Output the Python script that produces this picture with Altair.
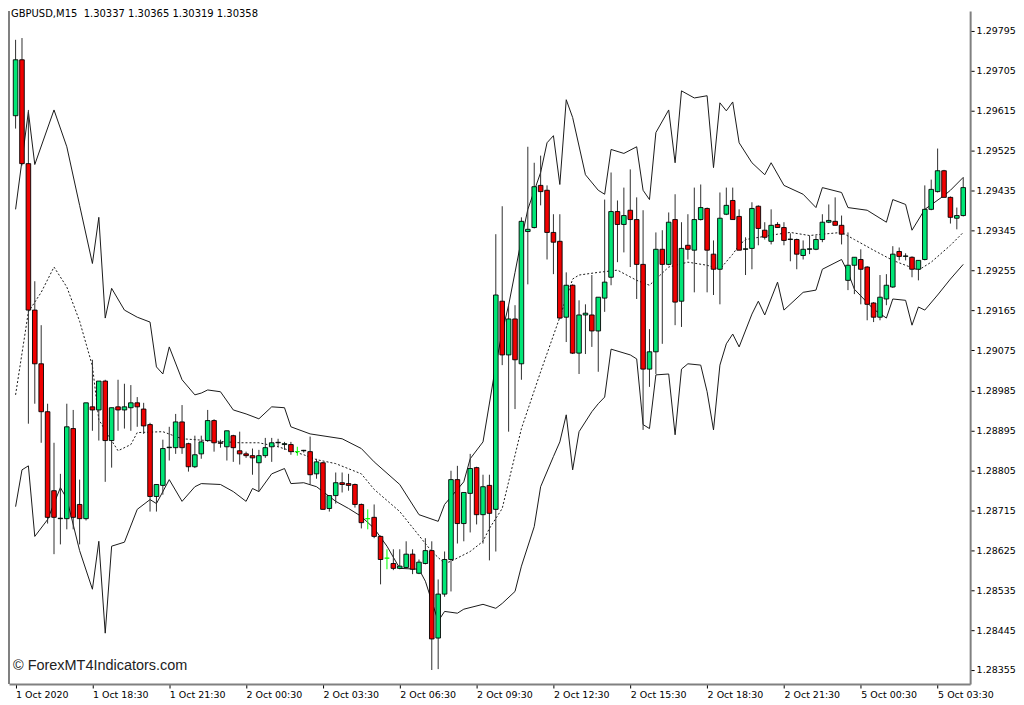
import altair as alt
import pandas as pd

# ---------------- candle data (GBPUSD M15) ----------------
bar_index = list(range(149))
opens = [1.29604, 1.29730, 1.29496, 1.29166, 1.29045, 1.28937, 1.28759, 1.28696, 1.28696, 1.28899,
         1.28728, 1.28696, 1.28948, 1.28941, 1.29006, 1.28872, 1.28948, 1.28941, 1.28946, 1.28957,
         1.28943, 1.28908, 1.28746, 1.28771, 1.28856, 1.28856, 1.28914, 1.28865, 1.28813, 1.28842,
         1.28872, 1.28917, 1.28867, 1.28858, 1.28883, 1.28849, 1.28842, 1.28838, 1.28822, 1.28838,
         1.28858, 1.28867, 1.28863, 1.28863, 1.28847, 1.28849, 1.28847, 1.28797, 1.28822, 1.28719,
         1.28748, 1.28777, 1.28775, 1.28773, 1.28728, 1.28696, 1.28699, 1.28656, 1.28607, 1.28595,
         1.28584, 1.28586, 1.28616, 1.28573, 1.28595, 1.28624, 1.28427, 1.28526, 1.28604, 1.28784,
         1.28685, 1.28753, 1.28811, 1.28705, 1.28771, 1.28717, 1.29186, 1.29065, 1.29146, 1.29045,
         1.29343, 1.29352, 1.29447, 1.29436, 1.29341, 1.29321, 1.29150, 1.29222, 1.29069, 1.29155,
         1.29155, 1.29119, 1.29193, 1.29240, 1.29388, 1.29359, 1.29391, 1.29370, 1.29269, 1.29033,
         1.29072, 1.29303, 1.29269, 1.29370, 1.29186, 1.29312, 1.29301, 1.29370, 1.29395, 1.29292,
         1.29258, 1.29382, 1.29413, 1.29377, 1.29303, 1.29305, 1.29400, 1.29346, 1.29321, 1.29359,
         1.29352, 1.29325, 1.29325, 1.29289, 1.29303, 1.29303, 1.29325, 1.29364, 1.29366, 1.29357,
         1.29233, 1.29267, 1.29280, 1.29263, 1.29182, 1.29150, 1.29191, 1.29218, 1.29298, 1.29287,
         1.29285, 1.29258, 1.29280, 1.29393, 1.29433, 1.29480, 1.29420, 1.29373, 1.29379]
highs = [1.29775, 1.29779, 1.29617, 1.29231, 1.29132, 1.28955, 1.28867, 1.28797, 1.28955, 1.28941,
         1.28784, 1.28957, 1.29054, 1.29006, 1.29009, 1.28946, 1.29009, 1.29000, 1.28997, 1.28970,
         1.28957, 1.28912, 1.28773, 1.28874, 1.28903, 1.28932, 1.28952, 1.28867, 1.28883, 1.28883,
         1.28941, 1.28920, 1.28874, 1.28894, 1.28885, 1.28892, 1.28847, 1.28854, 1.28851, 1.28878,
         1.28878, 1.28876, 1.28869, 1.28869, 1.28858, 1.28851, 1.28881, 1.28831, 1.28824, 1.28748,
         1.28800, 1.28800, 1.28797, 1.28775, 1.28730, 1.28717, 1.28728, 1.28658, 1.28627, 1.28627,
         1.28627, 1.28645, 1.28627, 1.28604, 1.28652, 1.28645, 1.28559, 1.28622, 1.28804, 1.28815,
         1.28755, 1.28842, 1.28813, 1.28795, 1.28795, 1.29337, 1.29400, 1.29177, 1.29177, 1.29375,
         1.29534, 1.29498, 1.29514, 1.29447, 1.29382, 1.29382, 1.29251, 1.29224, 1.29188, 1.29179,
         1.29245, 1.29195, 1.29415, 1.29476, 1.29413, 1.29442, 1.29483, 1.29420, 1.29391, 1.29123,
         1.29341, 1.29346, 1.29386, 1.29427, 1.29364, 1.29382, 1.29442, 1.29449, 1.29397, 1.29323,
         1.29431, 1.29442, 1.29442, 1.29393, 1.29330, 1.29409, 1.29402, 1.29364, 1.29393, 1.29364,
         1.29364, 1.29339, 1.29327, 1.29323, 1.29334, 1.29334, 1.29382, 1.29404, 1.29420, 1.29379,
         1.29341, 1.29285, 1.29303, 1.29265, 1.29184, 1.29245, 1.29247, 1.29310, 1.29307, 1.29294,
         1.29287, 1.29278, 1.29447, 1.29460, 1.29530, 1.29482, 1.29422, 1.29397, 1.29465]
lows = [1.29575, 1.29492, 1.28910, 1.28955, 1.28867, 1.28685, 1.28616, 1.28638, 1.28672, 1.28672,
        1.28638, 1.28692, 1.28894, 1.28872, 1.28779, 1.28811, 1.28894, 1.28899, 1.28894, 1.28903,
        1.28887, 1.28712, 1.28712, 1.28750, 1.28827, 1.28842, 1.28842, 1.28802, 1.28810, 1.28831,
        1.28869, 1.28847, 1.28856, 1.28827, 1.28824, 1.28818, 1.28833, 1.28795, 1.28757, 1.28833,
        1.28824, 1.28858, 1.28851, 1.28840, 1.28838, 1.28845, 1.28773, 1.28786, 1.28717, 1.28712,
        1.28730, 1.28755, 1.28759, 1.28721, 1.28674, 1.28672, 1.28652, 1.28548, 1.28582, 1.28580,
        1.28582, 1.28584, 1.28571, 1.28571, 1.28593, 1.28355, 1.28357, 1.28520, 1.28532, 1.28640,
        1.28645, 1.28665, 1.28683, 1.28640, 1.28602, 1.28622, 1.29042, 1.28892, 1.28943, 1.29009,
        1.29224, 1.29350, 1.29402, 1.29280, 1.29247, 1.29146, 1.29094, 1.29067, 1.29022, 1.29067,
        1.29083, 1.29027, 1.29162, 1.29222, 1.29274, 1.29296, 1.29263, 1.29191, 1.28896, 1.28993,
        1.29022, 1.29090, 1.29267, 1.29132, 1.29128, 1.29280, 1.29206, 1.29368, 1.29206, 1.29200,
        1.29179, 1.29380, 1.29370, 1.29301, 1.29245, 1.29258, 1.29312, 1.29325, 1.29314, 1.29352,
        1.29312, 1.29276, 1.29258, 1.29280, 1.29292, 1.29301, 1.29319, 1.29362, 1.29357, 1.29314,
        1.29211, 1.29202, 1.29179, 1.29143, 1.29139, 1.29143, 1.29177, 1.29216, 1.29278, 1.29278,
        1.29240, 1.29233, 1.29278, 1.29391, 1.29431, 1.29420, 1.29361, 1.29348, 1.29377]
closes = [1.29730, 1.29496, 1.29166, 1.29045, 1.28937, 1.28699, 1.28699, 1.28697, 1.28903, 1.28699,
          1.28696, 1.28957, 1.28941, 1.29006, 1.28872, 1.28946, 1.28941, 1.28948, 1.28957, 1.28948,
          1.28905, 1.28746, 1.28773, 1.28854, 1.28857, 1.28914, 1.28856, 1.28813, 1.28840, 1.28869,
          1.28917, 1.28867, 1.28866, 1.28894, 1.28856, 1.28842, 1.28838, 1.28833, 1.28838, 1.28856,
          1.28867, 1.28868, 1.28865, 1.28847, 1.28847, 1.28850, 1.28795, 1.28824, 1.28717, 1.28748,
          1.28777, 1.28773, 1.28771, 1.28728, 1.28687, 1.28696, 1.28656, 1.28604, 1.28607, 1.28584,
          1.28589, 1.28616, 1.28582, 1.28598, 1.28624, 1.28425, 1.28526, 1.28604, 1.28784, 1.28685,
          1.28755, 1.28809, 1.28705, 1.28768, 1.28708, 1.29200, 1.29065, 1.29146, 1.29054, 1.29366,
          1.29348, 1.29444, 1.29433, 1.29341, 1.29319, 1.29148, 1.29222, 1.29069, 1.29155, 1.29159,
          1.29119, 1.29195, 1.29229, 1.29388, 1.29359, 1.29379, 1.29370, 1.29269, 1.29033, 1.29072,
          1.29303, 1.29269, 1.29364, 1.29184, 1.29305, 1.29303, 1.29370, 1.29397, 1.29301, 1.29258,
          1.29373, 1.29402, 1.29370, 1.29301, 1.29304, 1.29395, 1.29350, 1.29330, 1.29357, 1.29352,
          1.29323, 1.29326, 1.29292, 1.29303, 1.29304, 1.29325, 1.29364, 1.29368, 1.29357, 1.29337,
          1.29267, 1.29285, 1.29258, 1.29179, 1.29150, 1.29195, 1.29222, 1.29292, 1.29287, 1.29288,
          1.29258, 1.29278, 1.29393, 1.29438, 1.29480, 1.29420, 1.29375, 1.29379, 1.29442]

# ---------------- channel lines (vertices) ----------------
upper_bars = [0, 2, 3, 6, 8, 10, 12, 13, 14, 15, 17, 19, 21, 22, 23, 24, 26, 28, 29, 30, 32, 34, 36, 38,
              40, 42, 43, 46, 51, 54, 56, 60, 63, 66, 67, 70, 71, 73, 75, 76, 77, 78, 79, 80, 82, 83,
              84, 85, 86, 87, 89, 91, 92, 93, 95, 97, 98, 99, 100, 102, 103, 104, 106, 108, 109, 110,
              111, 112, 113, 115, 117, 118, 120, 123, 125, 126, 129, 130, 133, 136, 137, 139, 140,
              142, 145, 146, 148]
upper_vals = [1.29393, 1.29613, 1.29494, 1.29617, 1.29534, 1.29402, 1.29271, 1.29375, 1.29148, 1.29215,
              1.29166, 1.29150, 1.29139, 1.29038, 1.29022, 1.29083, 1.29009, 1.28975, 1.28979, 1.28986,
              1.28982, 1.28941, 1.28932, 1.28921, 1.28948, 1.28946, 1.28903, 1.28887, 1.28876, 1.28854,
              1.28824, 1.28773, 1.28705, 1.28690, 1.28728, 1.28779, 1.28831, 1.28869, 1.29042, 1.29117,
              1.29177, 1.29251, 1.29325, 1.29393, 1.29476, 1.29543, 1.29559, 1.29449, 1.29640, 1.29600,
              1.29471, 1.29436, 1.29427, 1.29528, 1.29519, 1.29534, 1.29436, 1.29415, 1.29566, 1.29617,
              1.29498, 1.29660, 1.29644, 1.29649, 1.29487, 1.29633, 1.29615, 1.29635, 1.29543, 1.29498,
              1.29471, 1.29498, 1.29447, 1.29427, 1.29397, 1.29442, 1.29431, 1.29397, 1.29391, 1.29364,
              1.29415, 1.29404, 1.29346, 1.29393, 1.29424, 1.29436, 1.29465]
lower_bars = [0, 1, 2, 3, 5, 7, 8, 10, 12, 13, 14, 15, 17, 19, 21, 22, 24, 26, 28, 29, 32, 34, 36, 37,
              38, 40, 42, 43, 45, 47, 50, 52, 54, 56, 58, 60, 63, 64, 65, 66, 67, 69, 70, 73, 75, 76,
              78, 79, 81, 82, 84, 85, 86, 87, 88, 90, 91, 92, 93, 96, 97, 98, 99, 100, 102, 103, 104,
              105, 107, 108, 109, 110, 111, 112, 113, 115, 116, 117, 119, 120, 123, 125, 126, 129,
              130, 131, 134, 136, 137, 139, 140, 141, 142, 144, 146, 148]
lower_vals = [1.28723, 1.28806, 1.28815, 1.28656, 1.28694, 1.28766, 1.28741, 1.28624, 1.28537, 1.28645,
              1.28438, 1.28634, 1.28643, 1.28717, 1.28739, 1.28730, 1.28784, 1.28735, 1.28768, 1.28775,
              1.28773, 1.28757, 1.28735, 1.28764, 1.28757, 1.28797, 1.28809, 1.28775, 1.28777, 1.28768,
              1.28735, 1.28719, 1.28701, 1.28674, 1.28634, 1.28584, 1.28582, 1.28555, 1.28510, 1.28465,
              1.28487, 1.28483, 1.28492, 1.28503, 1.28494, 1.28505, 1.28532, 1.28589, 1.28678, 1.28768,
              1.28836, 1.28869, 1.28930, 1.28806, 1.28892, 1.28937, 1.28955, 1.28970, 1.29078, 1.29065,
              1.29056, 1.28908, 1.28899, 1.29020, 1.29022, 1.28885, 1.29033, 1.29045, 1.29042, 1.28982,
              1.28896, 1.29042, 1.29090, 1.29112, 1.29083, 1.29157, 1.29186, 1.29155, 1.29229, 1.29166,
              1.29206, 1.29211, 1.29258, 1.29280, 1.29251, 1.29213, 1.29168, 1.29148, 1.29191, 1.29188,
              1.29132, 1.29173, 1.29166, 1.29200, 1.29236, 1.29269]
mid_bars = [0, 2, 4, 6, 8, 10, 12, 13, 15, 16, 18, 19, 23, 26, 35, 38, 41, 45, 47, 50, 54, 56, 60, 65,
            67, 68, 71, 73, 74, 76, 79, 82, 85, 87, 88, 91, 94, 97, 99, 102, 105, 108, 110, 112, 113,
            114, 119, 121, 124, 126, 129, 131, 134, 137, 141, 143, 146, 148]
mid_vals = [1.28975, 1.29162, 1.29206, 1.29263, 1.29218, 1.29141, 1.29040, 1.28919, 1.28872, 1.28849,
            1.28863, 1.28890, 1.28892, 1.28876, 1.28867, 1.28867, 1.28858, 1.28840, 1.28829, 1.28820,
            1.28797, 1.28762, 1.28712, 1.28622, 1.28595, 1.28600, 1.28622, 1.28645, 1.28674, 1.28719,
            1.28899, 1.29027, 1.29150, 1.29236, 1.29245, 1.29251, 1.29256, 1.29233, 1.29222, 1.29263,
            1.29274, 1.29267, 1.29258, 1.29292, 1.29312, 1.29325, 1.29337, 1.29341, 1.29334, 1.29337,
            1.29341, 1.29325, 1.29301, 1.29278, 1.29256, 1.29274, 1.29312, 1.29341]

# ---------------- axes text ----------------
time_tick_bars = [0, 12, 24, 36, 48, 60, 72, 84, 96, 108, 120, 132, 144]
time_tick_labels = ["1 Oct 2020", "1 Oct 18:30", "1 Oct 21:30", "2 Oct 00:30", "2 Oct 03:30",
                    "2 Oct 06:30", "2 Oct 09:30", "2 Oct 12:30", "2 Oct 15:30", "2 Oct 18:30",
                    "2 Oct 21:30", "5 Oct 00:30", "5 Oct 03:30"]
price_ticks = [1.28355, 1.28445, 1.28535, 1.28625, 1.28715, 1.28805, 1.28895, 1.28985, 1.29075,
               1.29165, 1.29255, 1.29345, 1.29435, 1.29525, 1.29615, 1.29705, 1.29795]
header_text = "GBPUSD,M15\u00a0\u00a01.30337 1.30365 1.30319 1.30358"
watermark_text = "\u00a9 ForexMT4Indicators.com"

# ---------------- styling ----------------
W, H = 964, 675
GREEN = "#00E676"
RED = "#F00000"
LIME = "#00FF00"
WICK = "#303030"
LINE = "#1a1a1a"
FRAME = "#808080"
AXFONT = "DejaVu Sans"

candles = pd.DataFrame({"bar": bar_index, "open": opens, "high": highs, "low": lows, "close": closes})
upper_df = pd.DataFrame({"bar": upper_bars, "value": upper_vals})
lower_df = pd.DataFrame({"bar": lower_bars, "value": lower_vals})
mid_df = pd.DataFrame({"bar": mid_bars, "value": mid_vals})

xscale = alt.Scale(domain=[-0.25, 148.3], nice=False, zero=False)
yscale = alt.Scale(domain=[1.283234, 1.298399], nice=False, zero=False)

label_js = "[" + ",".join("'" + t + "'" for t in time_tick_labels) + "][round(datum.value/12)]"

x_axis = alt.Axis(values=time_tick_bars, labelExpr=label_js, orient="bottom", grid=False,
                  labelAlign="left", labelBaseline="top", labelPadding=2, labelFlush=False,
                  labelOverlap=False, labelFont=AXFONT, labelFontSize=9.5, labelColor="#000000",
                  tickSize=4, tickColor="#000000", tickWidth=1,
                  domainColor=FRAME, domainWidth=2, title=None)
y_axis = alt.Axis(values=price_ticks, format=".5f", orient="right", grid=False,
                  labelAlign="left", labelBaseline="middle", labelPadding=2,
                  labelOverlap=False, labelFlush=False, labelFont=AXFONT, labelFontSize=9.5,
                  labelColor="#000000", tickSize=4, tickColor="#000000", tickWidth=1,
                  domainColor=FRAME, domainWidth=2, title=None)

base = alt.Chart(candles)

wicks = base.mark_rule(strokeWidth=1, clip=True).encode(
    x=alt.X("bar:Q", scale=xscale, axis=x_axis),
    y=alt.Y("low:Q", scale=yscale, axis=y_axis),
    y2="high:Q",
    color=alt.condition("datum.open == datum.close", alt.value(LIME), alt.value(WICK)),
)

bodies = base.mark_bar(size=4.6, strokeWidth=0.9, clip=True).encode(
    x=alt.X("bar:Q", scale=xscale),
    y=alt.Y("open:Q", scale=yscale),
    y2="close:Q",
    color=alt.condition("datum.close > datum.open", alt.value(GREEN), alt.value(RED)),
    stroke=alt.condition("datum.open == datum.close", alt.value(LIME), alt.value("#000000")),
)

def band(df, dashed=False):
    kw = dict(color=LINE, strokeWidth=1, clip=True)
    if dashed:
        kw["strokeDash"] = [2, 2]
    return alt.Chart(df).mark_line(**kw).encode(
        x=alt.X("bar:Q", scale=xscale),
        y=alt.Y("value:Q", scale=yscale),
    )

left_border = alt.Chart(pd.DataFrame({"k": [0]})).mark_rule(color=FRAME, strokeWidth=2).encode(
    x=alt.value(0), y=alt.value(0), y2=alt.value(H)
)

header = alt.Chart(pd.DataFrame({"t": [header_text]})).mark_text(
    align="left", baseline="middle", font=AXFONT, fontSize=10, color="#000000"
).encode(x=alt.value(2), y=alt.value(3), text="t:N")

watermark = alt.Chart(pd.DataFrame({"t": [watermark_text]})).mark_text(
    align="left", baseline="middle", font="Liberation Sans", fontSize=14.5, color="#222222"
).encode(x=alt.value(4), y=alt.value(657), text="t:N")

chart = alt.layer(
    band(upper_df), band(lower_df), band(mid_df, dashed=True),
    wicks, bodies, left_border, header, watermark
).properties(
    width=W, height=H, padding={"left": 0, "top": 0, "right": 0, "bottom": 0}, background="#ffffff"
).configure_view(stroke=None)

chart.save("out.html", embed_options={"renderer": "svg", "actions": False})
